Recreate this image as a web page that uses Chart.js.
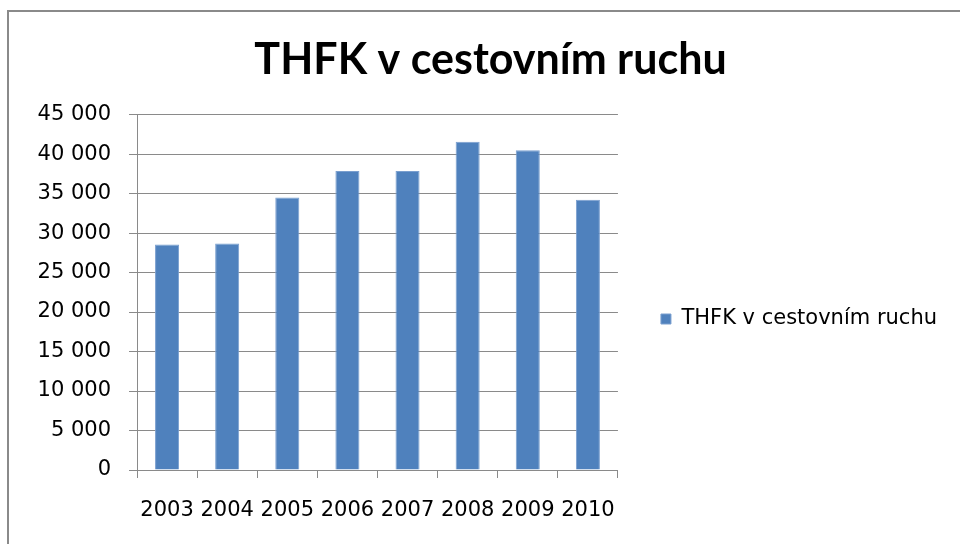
<!DOCTYPE html>
<html>
<head>
<meta charset="utf-8">
<script src="https://cdn.jsdelivr.net/npm/chart.js@4.4.1/dist/chart.umd.min.js"></script>
<style>
  html, body { margin: 0; padding: 0; background: #fff; overflow: hidden; }
  #wrap { position: relative; width: 960px; height: 544px; }
  #frame {
    position: absolute; left: 7px; top: 10px; width: 1000px; height: 600px;
    border: 2px solid #8a8a8a; box-sizing: border-box;
  }
  canvas { position: absolute; left: 0; top: 0; }
</style>
</head>
<body>
<div id="wrap">
  <div id="frame"></div>
  <canvas id="chart" width="960" height="544"></canvas>
</div>
<script>
// data
const years = ["2003", "2004", "2005", "2006", "2007", "2008", "2009", "2010"];
const travel = [28540, 28670, 34500, 37850, 37850, 41570, 40500, 34220];
const seriesName = "THFK v cestovním ruchu";

const TEXT_FONT = "'DejaVu Sans', sans-serif";
const TITLE_FONT = "Lato, 'Open Sans', sans-serif";
const GRID = "#8a8a8a";

// "45 000" style
function spaced(v) {
  return String(v).replace(/\B(?=(\d{3})+(?!\d))/g, " ");
}

const ctx = document.getElementById("chart").getContext("2d");

new Chart(ctx, {
  type: "bar",
  data: {
    labels: years,
    datasets: [
      {
        label: seriesName,
        data: travel,
        backgroundColor: "#4f81bd",
        borderColor: "#7a9fcf",
        borderWidth: 1,
        categoryPercentage: 1,
        barPercentage: 0.4
      }
    ]
  },
  options: {
    responsive: false,
    animation: false,
    layout: { padding: { left: 34, right: 13, top: 0, bottom: 0 } },
    scales: {
      x: {
        offset: true,
        border: { color: GRID },
        grid: { drawOnChartArea: false, color: GRID, tickLength: 8 },
        ticks: { color: "#000", font: { family: TEXT_FONT, size: 21 }, padding: 20, maxRotation: 0 },
        afterFit: (s) => { s.height = 74; }
      },
      y: {
        min: 0,
        max: 45000,
        border: { color: GRID },
        grid: { color: GRID, tickLength: 8 },
        ticks: {
          stepSize: 5000,
          color: "#000",
          font: { family: TEXT_FONT, size: 21 },
          padding: 18,
          callback: (v) => spaced(v)
        },
        afterFit: (s) => { s.width = 103; }
      }
    },
    plugins: {
      title: {
        display: true,
        text: seriesName,
        color: "#000",
        font: { family: TITLE_FONT, size: 43, weight: "bold" },
        padding: { top: 34, bottom: 29 }
      },
      legend: {
        position: "right",
        maxWidth: 400,
        // empty title only pushes the single entry down to where Excel puts it
        title: { display: true, text: " ", font: { size: 10 }, padding: { top: 82, bottom: 0 } },
        labels: {
          color: "#000",
          font: { family: TEXT_FONT, size: 21 },
          boxWidth: 10,
          boxHeight: 10,
          padding: 43
        }
      },
      tooltip: { enabled: false }
    }
  }
});
</script>
</body>
</html>
